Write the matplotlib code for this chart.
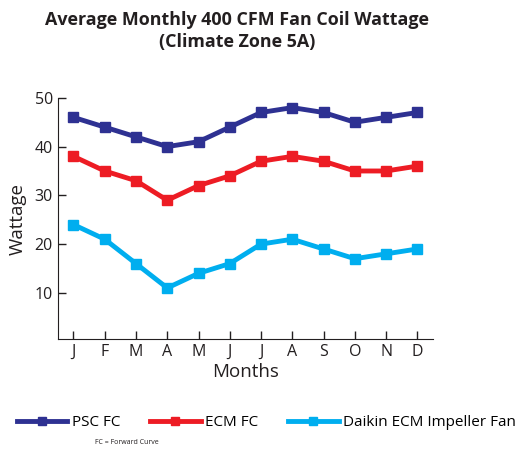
import numpy as np
import matplotlib
matplotlib.use('Agg')
import matplotlib.pyplot as plt

plt.rcParams['font.family'] = ['Open Sans', 'DejaVu Sans']

months = ['J', 'F', 'M', 'A', 'M', 'J', 'J', 'A', 'S', 'O', 'N', 'D']
psc_fc = [46, 44, 42, 40, 41, 44, 47, 48, 47, 45, 46, 47]
ecm_fc = [38, 35, 33, 29, 32, 34, 37, 38, 37, 35, 35, 36]
daikin = [24, 21, 16, 11, 14, 16, 20, 21, 19, 17, 18, 19]

series = [('PSC FC', psc_fc, '#2E3192'),
          ('ECM FC', ecm_fc, '#ED1C24'),
          ('Daikin ECM Impeller Fan', daikin, '#00AEEF')]

fig = plt.figure(figsize=(5.21, 4.51), dpi=100)
ax = fig.add_axes([0.111, 0.248, 0.72, 0.535])

x = np.arange(len(months))
for name, vals, col in series:
    ax.plot(x, vals, color=col, linewidth=3.5, marker='s', markersize=6.5, label=name)

ax.set_xlim(-0.5, 11.5)
ax.set_ylim(0.5, 50)
ax.set_yticks([10, 20, 30, 40, 50])
ax.set_xticks(x)
ax.set_xticklabels(months)
ax.tick_params(direction='in', length=6, width=1, labelsize=11.5, colors='#231F20')
ax.spines['top'].set_visible(False)
ax.spines['right'].set_visible(False)
ax.spines['left'].set_color('#231F20')
ax.spines['bottom'].set_color('#231F20')
ax.set_ylabel('Wattage', fontsize=13.5, color='#231F20', labelpad=6)
ax.set_xlabel('Months', fontsize=13.5, color='#231F20', labelpad=2)

fig.text(0.455, 0.975, 'Average Monthly 400 CFM Fan Coil Wattage\n(Climate Zone 5A)',
         ha='center', va='top', fontsize=12.9, fontweight='bold', color='#231F20',
         linespacing=1.25)

fig.legend(loc='center left', bbox_to_anchor=(0.021, 0.063), ncol=3, frameon=False,
           fontsize=11, handlelength=3.3, handletextpad=0.3, columnspacing=1.95,
           markerscale=0.9, borderaxespad=0)

fig.text(0.182, 0.01, 'FC = Forward Curve', fontsize=5, color='#231F20', va='bottom')

fig.savefig('out.png', dpi=100)
